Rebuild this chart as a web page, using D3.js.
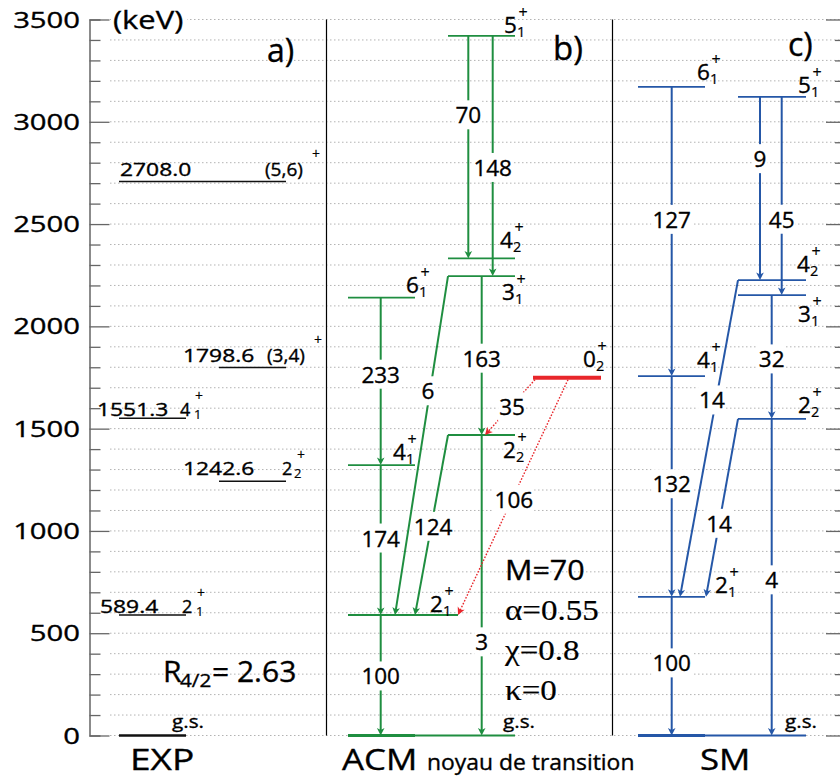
<!DOCTYPE html>
<html><head><meta charset="utf-8">
<script src="https://cdn.jsdelivr.net/npm/d3@7"></script>
<style>body{margin:0;background:#fff} svg{display:block} text{stroke:#000;stroke-width:0.35px;paint-order:fill}</style>
</head><body>
<script>
// ---------------- DATA ----------------
const yTicksMajor = [0, 500, 1000, 1500, 2000, 2500, 3000, 3500];

// a) EXP
const expEnergies   = [0, 589.4, 1242.6, 1551.3, 1798.6, 2708.0];
const expEnergyText = ["", "589.4", "1242.6", "1551.3", "1798.6", "2708.0"];
const expSpinMain   = ["g.s.", "2", "2", "4", "(3,4)", "(5,6)"];
const expSpinSub    = ["", "1", "2", "1", "", ""];

// b) ACM
const acmLevels   = ["gs", "2_1", "4_1", "6_1", "2_2", "3_1", "4_2", "5_1", "0_2"];
const acmEnergies = [0, 589, 1322, 2140, 1469, 2246, 2332, 3420, 1749];
const acmTransFrom = ["5_1", "5_1", "6_1", "4_1", "2_1", "3_1", "2_2", "3_1", "2_2", "0_2", "0_2"];
const acmTransTo   = ["4_2", "3_1", "4_1", "2_1", "gs",  "2_2", "gs",  "2_1", "2_1", "2_2", "2_1"];
const acmBE2       = [70, 148, 233, 174, 100, 163, 3, 6, 124, 35, 106];
const acmParamsSans  = ["M=70"];
const acmParamsSerif = ["α=0.55", "χ=0.8", "κ=0"];

// c) SM
const smLevels   = ["gs", "2_1", "4_1", "6_1", "2_2", "3_1", "4_2", "5_1"];
const smEnergies = [0, 678, 1757, 3171, 1548, 2153, 2226, 3122];
const smTransFrom = ["6_1", "4_1", "2_1", "5_1", "5_1", "3_1", "2_2", "4_2", "2_2"];
const smTransTo   = ["4_1", "2_1", "gs",  "4_2", "3_1", "2_2", "gs",  "2_1", "2_1"];
const smBE2       = [127, 132, 100, 9, 45, 32, 4, 14, 14];

// ---------------- LAYOUT ----------------
const W = 840, H = 783;
const FONT = "'Open Sans','Noto Sans',sans-serif";
const SERIF = "'Liberation Serif','DejaVu Serif',serif";
const GREEN = "#1f8e40", BLUE = "#2557a7", RED = "#e8262b";

const svg = d3.select("body").append("svg").attr("width", W).attr("height", H)
  .style("font-family", FONT);
const y = d3.scaleLinear().domain([0, 3500]).range([735.5, 19.5]);

function txt(g, x, yy, s, o = {}) {
  const t = g.append("text")
    .attr("transform", `translate(${x},${yy}) scale(${o.sx || 1},1)`)
    .attr("font-size", o.fs || 22)
    .attr("text-anchor", o.anchor || "start")
    .attr("fill", o.fill || "#000")
    .text(s);
  if (o.family) t.attr("font-family", o.family);
  if (o.sw !== undefined) t.style("stroke-width", o.sw + "px");
  return t;
}
function spin(g, x, base, main, sub, o) {
  txt(g, x, base, main, { fs: o.fs });
  if (sub) txt(g, x + o.subDx, base + o.subDy, sub, { fs: o.subFs, sw: 0.2 });
  txt(g, x + o.plusDx, base + o.plusDy, "+", { fs: o.plusFs, anchor: "middle", sw: 0.2 });
}

// grid
const gridVals = d3.range(0, 3501, 100);
svg.append("g").selectAll("line").data(gridVals).join("line")
  .attr("x1", 110).attr("x2", 840).attr("y1", d => y(d)).attr("y2", d => y(d))
  .attr("stroke", "#b3b3b3").attr("stroke-width", 1).attr("stroke-dasharray", "1.5,2.5");

// left axis
const gL = svg.append("g").attr("transform", "translate(89.5,0)")
  .call(d3.axisRight(y).tickValues(gridVals).tickFormat("").tickSizeOuter(0).tickSize(11));
gL.selectAll(".tick line").attr("x2", d => d % 500 === 0 ? 20 : 11).attr("stroke", "#666").attr("stroke-width", 1.3);
gL.select(".domain").attr("stroke", "#666").attr("stroke-width", 1.5);

// right axis
const gR = svg.append("g").attr("transform", "translate(840,0)")
  .call(d3.axisLeft(y).tickValues(gridVals).tickFormat("").tickSizeOuter(0).tickSize(5));
gR.selectAll(".tick line").attr("x2", d => d % 500 === 0 ? -14 : -5).attr("stroke", "#666").attr("stroke-width", 1.3);
gR.select(".domain").remove();

// tick labels
const gLab = svg.append("g").attr("transform", "translate(80,0)");
yTicksMajor.forEach(v => txt(gLab, 0, y(v) + 8, String(v), { fs: 22.5, sx: 1.3, anchor: "end" }));

// (keV)
svg.append("rect").attr("x", 111).attr("y", 2).attr("width", 76).attr("height", 36).attr("fill", "#fff");
txt(svg, 113, 29, "(keV)", { fs: 26, sx: 1.19 });

// separators
[326.5, 612.5].forEach(x => svg.append("line").attr("x1", x).attr("x2", x)
  .attr("y1", 19.5).attr("y2", 735.5).attr("stroke", "#000").attr("stroke-width", 1.2));

// panel letters
txt(svg, 267, 62, "a)", { fs: 32 });
txt(svg, 553, 60, "b)", { fs: 33 });
txt(svg, 788, 56, "c)", { fs: 32 });

// ---------------- a) EXP ----------------
const expLayout = [
  { x: [119, 186], w: 2.6, e: null, s: { x: 172, dy: -8 } },
  { x: [119, 186], w: 1.5, e: { x: 100, dy: -2.3 }, s: { x: 182, dy: -2.3, sdx: 14 } },
  { x: [219, 286], w: 1.5, e: { x: 183, dy: -6 }, s: { x: 282, dy: -6, sdx: 12 } },
  { x: [119, 186], w: 1.5, e: { x: 97, dy: -2 }, s: { x: 180, dy: -2, sdx: 14 } },
  { x: [219, 286], w: 1.5, e: { x: 183, dy: -5.8 }, s: { x: 267, dy: -5.8, px: 318, pdy: -23 } },
  { x: [119, 286], w: 1.5, e: { x: 120, dy: -5.4 }, s: { x: 265, dy: -5.4, px: 316, pdy: -22.4 } }
];
const gA = svg.append("g");
expEnergies.forEach((E, i) => {
  const L = expLayout[i], yy = y(E);
  gA.append("line").attr("x1", L.x[0]).attr("x2", L.x[1]).attr("y1", yy).attr("y2", yy)
    .attr("stroke", "#111").attr("stroke-width", L.w);
  if (L.e) txt(gA, L.e.x, yy + L.e.dy, expEnergyText[i], { fs: 17.3, sx: 1.32 });
  const m = expSpinMain[i];
  if (m === "g.s.") txt(gA, L.s.x, yy + L.s.dy, m, { fs: 18, sx: 1.15 });
  else if (m.startsWith("(")) {
    txt(gA, L.s.x, yy + L.s.dy, m, { fs: 17.3, sx: 1.1 });
    txt(gA, L.s.px, yy + L.s.pdy, "+", { fs: 14, anchor: "middle", sw: 0.2 });
  } else {
    spin(gA, L.s.x, yy + L.s.dy, m, expSpinSub[i],
      { fs: 18, subDx: L.s.sdx, subDy: 3, subFs: 13, plusDx: 19, plusDy: -15, plusFs: 14 });
  }
});
// R4/2
txt(gA, 163, 682, "R", { fs: 30 });
txt(gA, 180, 687, "4/2", { fs: 18, sx: 1.15 });
txt(gA, 212, 682, "= 2.63", { fs: 30 });

// ---------------- markers ----------------
const defs = svg.append("defs");
function marker(id, color) {
  defs.append("marker").attr("id", id).attr("markerUnits", "userSpaceOnUse")
    .attr("markerWidth", 20).attr("markerHeight", 20).attr("refX", 0).attr("refY", 0)
    .attr("orient", "auto").attr("overflow", "visible")
    .append("path").attr("d", "M4,0 L-3.5,-3.8 L-1.5,0 L-3.5,3.8 Z").attr("fill", color);
}
marker("arG", GREEN); marker("arB", BLUE); marker("arR", RED);

const SPIN_OPT = { fs: 22.5, subDx: 13, subDy: 4, subFs: 14.5, plusDx: 19, plusDy: -15, plusFs: 16 };

function drawScheme(levels, energies, lay, from, to, vals, tlay, color, mk) {
  const g = svg.append("g");
  const Y = {};
  levels.forEach((l, i) => Y[l] = y(energies[i]));
  levels.forEach((l, i) => {
    const L = lay[l], yy = Y[l];
    g.append("line").attr("x1", L.x[0]).attr("x2", L.x[1]).attr("y1", yy).attr("y2", yy)
      .attr("stroke", L.color || color).attr("stroke-width", L.w || 1.8);
    if (L.thick) g.append("line").attr("x1", L.thick[0]).attr("x2", L.thick[1]).attr("y1", yy).attr("y2", yy)
      .attr("stroke", color).attr("stroke-width", 3);
    if (l === "gs") txt(g, L.lx, yy + L.dy, "g.s.", { fs: 18, sx: 1.15 });
    else {
      const [m, s] = l.split("_");
      spin(g, L.lx, yy + L.dy, m, s, SPIN_OPT);
    }
  });
  const labs = [];
  from.forEach((f, i) => {
    const T = tlay[i];
    const x1 = T.x1 ?? T.x, x2 = T.x2 ?? T.x;
    const y1 = Y[f] + (T.dotted ? 2 : 0), y2 = Y[to[i]];
    const dx = x2 - x1, dy = y2 - y1, Ln = Math.hypot(dx, dy);
    const ln = g.append("line").attr("x1", x1).attr("y1", y1)
      .attr("x2", x2 - dx / Ln * 4).attr("y2", y2 - dy / Ln * 4)
      .attr("stroke", T.dotted ? RED : color)
      .attr("stroke-width", T.dotted ? 1.4 : 2)
      .attr("marker-end", `url(#${T.dotted ? "arR" : mk})`);
    if (T.dotted) ln.attr("stroke-dasharray", "1.6,1.6");
    labs.push({ x: x1 + dx * T.f + (T.ldx || 0), y: y1 + dy * T.f, v: vals[i] });
  });
  labs.forEach(d => {
    const t = g.append("text").attr("x", d.x).attr("y", d.y + 8).attr("text-anchor", "middle")
      .attr("font-size", 22.5).attr("fill", "#000").text(d.v);
    const b = t.node().getBBox();
    g.insert("rect", () => t.node()).attr("x", b.x - 1).attr("y", b.y + 1)
      .attr("width", b.width + 2).attr("height", b.height - 2).attr("fill", "#fff");
  });
}

// ---------------- b) ACM ----------------
const acmLayout = {
  gs:   { x: [348, 515], thick: [348, 415], lx: 503, dy: -8 },
  "2_1": { x: [348, 458], lx: 430, dy: -3 },
  "4_1": { x: [348, 415], lx: 393, dy: -5 },
  "6_1": { x: [348, 415], lx: 406, dy: -5 },
  "2_2": { x: [448, 515], lx: 503, dy: 23 },
  "3_1": { x: [448, 515], lx: 502, dy: 24 },
  "4_2": { x: [448, 515], lx: 500, dy: -10 },
  "5_1": { x: [448, 515], lx: 504, dy: -3 },
  "0_2": { x: [533, 601], lx: 583, dy: -11, color: RED, w: 4 }
};
const acmTransLayout = [
  { x: 468.3, f: 0.357 }, { x: 492.7, f: 0.55 }, { x: 380.7, f: 0.46 }, { x: 380.7, f: 0.49 },
  { x: 380.7, f: 0.51 }, { x: 481.7, f: 0.52 }, { x: 481.7, f: 0.69 },
  { x1: 448, x2: 395, f: 0.34, ldx: -2 }, { x1: 448, x2: 415, f: 0.51, ldx: 2 },
  { x1: 535, x2: 485, f: 0.5, dotted: true, ldx: 2 }, { x1: 568, x2: 458, f: 0.51, dotted: true, ldx: 2 }
];
drawScheme(acmLevels, acmEnergies, acmLayout, acmTransFrom, acmTransTo, acmBE2, acmTransLayout, GREEN, "arG");

const gP = svg.append("g");
txt(gP, 505, 580, acmParamsSans[0], { fs: 28, sx: 1.09 });
acmParamsSerif.forEach((s, i) => txt(gP, 505, 620 + 40 * i, s, { fs: 29.5, sx: 1.12, family: SERIF, sw: 0.2 }));

// ---------------- c) SM ----------------
const smLayout = {
  gs:   { x: [638, 806], thick: [638, 705], lx: 785, dy: -8 },
  "2_1": { x: [638, 705], lx: 715, dy: -4 },
  "4_1": { x: [638, 705], lx: 697, dy: -8 },
  "6_1": { x: [638, 705], lx: 697, dy: -7 },
  "2_2": { x: [738, 806], lx: 798, dy: -6 },
  "3_1": { x: [738, 806], lx: 798, dy: 27 },
  "4_2": { x: [738, 806], lx: 797, dy: -8 },
  "5_1": { x: [738, 806], lx: 798, dy: -4 }
};
const smTransLayout = [
  { x: 671.7, f: 0.46 }, { x: 671.7, f: 0.49 }, { x: 671.7, f: 0.48 },
  { x: 760, f: 0.34 }, { x: 781.7, f: 0.62 }, { x: 771.7, f: 0.52 }, { x: 771.7, f: 0.51 },
  { x1: 738, x2: 680, f: 0.38, ldx: -4 }, { x1: 738, x2: 706, f: 0.59 }
];
drawScheme(smLevels, smEnergies, smLayout, smTransFrom, smTransTo, smBE2, smTransLayout, BLUE, "arB");

// ---------------- bottom labels ----------------
txt(svg, 130, 770, "EXP", { fs: 29, sx: 1.28 });
txt(svg, 342, 770, "ACM", { fs: 29, sx: 1.2 });
txt(svg, 427, 770, "noyau de transition", { fs: 21.8, sx: 1.05 });
txt(svg, 700, 770, "SM", { fs: 29, sx: 1.2 });
</script>
</body></html>
